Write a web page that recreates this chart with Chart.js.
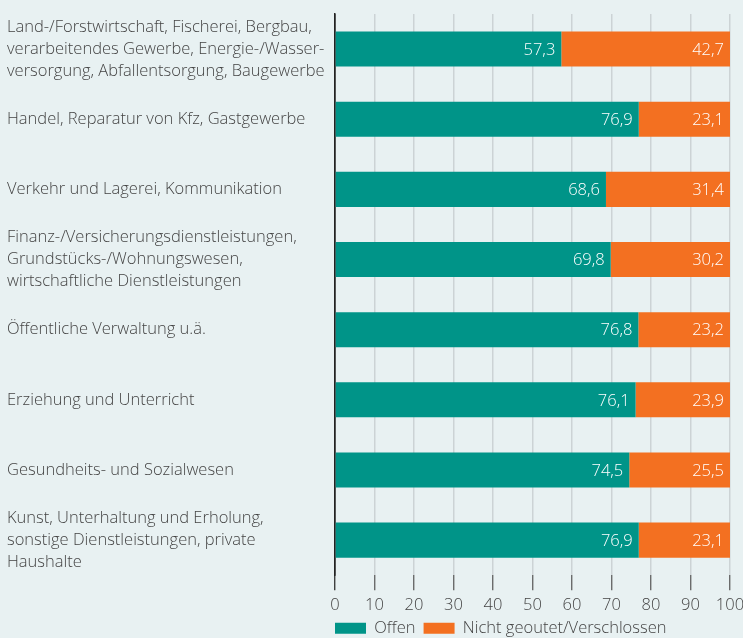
<!DOCTYPE html>
<html>
<head>
<meta charset="utf-8">
<script src="https://cdn.jsdelivr.net/npm/chart.js@4/dist/chart.umd.min.js"></script>
<style>
  html, body { margin: 0; padding: 0; background: #e8f1f2; }
  #wrap { width: 743px; height: 638px; position: relative; }
</style>
</head>
<body>
<div id="wrap"><canvas id="c"></canvas></div>
<script>
// Branchen (mehrzeilige Beschriftungen wie im Original)
const branchen = [
  ['Land-/Forstwirtschaft, Fischerei, Bergbau,', 'verarbeitendes Gewerbe, Energie-/Wasser-', 'versorgung, Abfallentsorgung, Baugewerbe'],
  ['Handel, Reparatur von Kfz, Gastgewerbe'],
  ['Verkehr und Lagerei, Kommunikation'],
  ['Finanz-/Versicherungsdienstleistungen,', 'Grundstücks-/Wohnungswesen,', 'wirtschaftliche Dienstleistungen'],
  ['Öffentliche Verwaltung u.ä.'],
  ['Erziehung und Unterricht'],
  ['Gesundheits- und Sozialwesen'],
  ['Kunst, Unterhaltung und Erholung,', 'sonstige Dienstleistungen, private', 'Haushalte']
];
const offen = [57.3, 76.9, 68.6, 69.8, 76.8, 76.1, 74.5, 76.9];
const verschlossen = [42.7, 23.1, 31.4, 30.2, 23.2, 23.9, 25.5, 23.1];
const xTicks = [0, 10, 20, 30, 40, 50, 60, 70, 80, 90, 100];

const FONT = '"Open Sans", "Noto Sans", sans-serif';
const TXT = '#444';
const LEG_PAD = 8;
const fmtDe = v => v.toFixed(1).replace('.', ',');

// Werte weiß, rechtsbündig am Ende jedes Segments
const valueLabels = {
  id: 'valueLabels',
  afterDatasetsDraw(chart) {
    const ctx = chart.ctx;
    ctx.save();
    ctx.font = '300 16.5px ' + FONT;
    ctx.fillStyle = '#fff';
    ctx.textAlign = 'right';
    ctx.textBaseline = 'middle';
    chart.data.datasets.forEach((ds, di) => {
      chart.getDatasetMeta(di).data.forEach((bar, i) => {
        ctx.fillText(fmtDe(ds.data[i]), bar.x - 6, bar.y + 1);
      });
    });
    ctx.restore();
  }
};

// Legende flach halten und bündig mit der Nulllinie setzen
const legendShift = {
  id: 'legendShift',
  beforeLayout(chart) {
    const lg = chart.legend;
    if (lg && !lg._patched) {
      const fit = lg.fit;
      lg.fit = function () { fit.call(this); this.height = 26; };
      lg._patched = true;
    }
  },
  afterLayout(chart) {
    if (chart.legend) chart.legend.left = chart.chartArea.left - LEG_PAD;
  }
};

new Chart(document.getElementById('c'), {
  type: 'bar',
  data: {
    labels: branchen,
    datasets: [
      { label: 'Offen', data: offen, backgroundColor: '#009488', categoryPercentage: 0.5, barPercentage: 1 },
      { label: 'Nicht geoutet/Verschlossen', data: verschlossen, backgroundColor: '#f37021', categoryPercentage: 0.5, barPercentage: 1 }
    ]
  },
  options: {
    indexAxis: 'y',
    responsive: true,
    maintainAspectRatio: false,
    animation: false,
    layout: { padding: { left: 7, top: 14, right: 0, bottom: 0 } },
    plugins: {
      legend: {
        position: 'bottom',
        align: 'start',
        labels: { color: TXT, font: { family: FONT, size: 16.5, weight: 300 }, boxWidth: 31, boxHeight: 11, padding: LEG_PAD }
      },
      tooltip: { enabled: false }
    },
    scales: {
      x: {
        stacked: true, min: 0, max: 100,
        afterBuildTicks: s => { s.ticks = xTicks.map(v => ({ value: v })); },
        afterFit: s => { s.paddingRight = 13; s.height -= 8; },
        border: { display: false },
        grid: {
          color: c => c.tick && c.tick.value === 0 ? '#222' : '#ccd3d5',
          lineWidth: 1.5,
          tickColor: c => c.tick && c.tick.value === 0 ? '#222' : '#555',
          tickLength: 15,
          tickWidth: 1.2
        },
        ticks: { color: TXT, font: { family: FONT, size: 16.5, weight: 300 }, padding: 5, maxRotation: 0 }
      },
      y: {
        stacked: true,
        afterFit: s => { s.width = 328; s.paddingTop = 0; s.paddingBottom = 0; },
        border: { display: true, color: '#222', width: 1.5 },
        grid: { display: false },
        ticks: { color: TXT, crossAlign: 'far', autoSkip: false, font: { family: FONT, size: 16.5, weight: 300, lineHeight: 1.333 } }
      }
    }
  },
  plugins: [valueLabels, legendShift]
});
</script>
</body>
</html>
